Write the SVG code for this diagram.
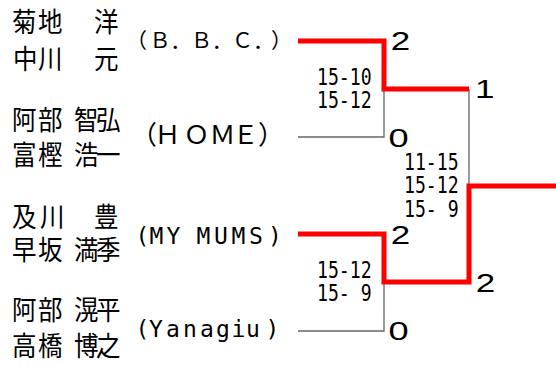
<svg xmlns="http://www.w3.org/2000/svg" width="556" height="365" viewBox="0 0 556 365">
<style>
.nm{font-family:"Noto Sans CJK JP","Noto Sans CJK SC",sans-serif;font-size:24.5px;fill:#000}
.fw{font-family:"Noto Sans CJK JP",sans-serif;fill:#000}
.mono{font-family:"DejaVu Sans Mono","Liberation Mono",monospace;font-size:23px;fill:#000}
.sc{font-family:"DejaVu Sans Mono","Liberation Mono",monospace;font-size:23px;fill:#000}
.pt{font-family:"Liberation Sans",Arial,sans-serif;font-size:25px;fill:#000}
.win{fill:none;stroke:#ff0000;stroke-width:5;stroke-linejoin:miter;stroke-linecap:butt}
.los{fill:none;stroke:#666;stroke-width:1.3}
</style>
<rect width="556" height="365" fill="#fff"/>
<g id="connectors">
<polyline class="los" points="384,89 384,137 298,137"/>
<polyline class="los" points="469,89 469,186"/>
<polyline class="los" points="384,282 384,331 298,331"/>
<polyline class="win" points="298,41 384,41 384,89 469,89"/>
<polyline class="win" points="298,234 384,234 384,282 469,282 469,186 556,186"/>
</g>
<g id="team-bbc">
<text class="nm" transform="translate(0,31.5) scale(1,1.1)" x="12 38 66 94" y="0">菊地　洋</text>
<text class="nm" transform="translate(0,69) scale(1,1.1)" x="13 38 66 94" y="0">中川　元</text>
<text class="fw" font-size="21" x="126 149.5 170.2 191 211.7 232 253 271" y="48">（Ｂ．Ｂ．Ｃ．）</text>
</g>
<g id="team-home">
<text class="nm" transform="translate(0,129.8) scale(1,1.1)" x="12 38 62 74 96" y="0">阿部　智弘</text>
<text class="nm" transform="translate(0,164.7) scale(1,1.1)" x="12 38 62 74 96" y="0">富樫　浩一</text>
<text class="fw" font-size="26" x="131 154.5 183.5 209.5 232.5 258" y="144">（ＨＯＭＥ）</text>
</g>
<g id="team-mymums">
<text class="nm" transform="translate(0,226.5) scale(1,1.1)" x="12 40 66 94" y="0">及川　豊</text>
<text class="nm" transform="translate(0,259.7) scale(1,1.1)" x="12 38 62 74 96" y="0">早坂　満季</text>
<text class="mono" x="135.6 149.6 166.6 183 196.6 214.1 231.6 249.1 268.1" y="244">(MY MUMS)</text>
</g>
<g id="team-yanagiu">
<text class="nm" transform="translate(0,319.7) scale(1,1.1)" x="12 38 62 74 96" y="0">阿部　滉平</text>
<text class="nm" transform="translate(0,355.7) scale(1,1.1)" x="12 38 62 74 96" y="0">高橋　博之</text>
<text class="mono" x="135.6 149.1 166.1 183.1 200.1 216.1 231.6 246.1 265.6" y="337">(Yanagiu)</text>
</g>
<g id="match-1">
<text class="pt" transform="translate(390.7,50) scale(1.4,1)">2</text>
<text class="pt" transform="translate(388.6,146.7) scale(1.45,1)">0</text>
<text class="sc" transform="translate(317,85) scale(0.79,1)">15-10</text>
<text class="sc" transform="translate(317,108.3) scale(0.79,1)">15-12</text>
</g>
<g id="match-2">
<text class="pt" transform="translate(390.7,244) scale(1.4,1)">2</text>
<text class="pt" transform="translate(388.6,340) scale(1.45,1)">0</text>
<text class="sc" transform="translate(317,278.3) scale(0.79,1)">15-12</text>
<text class="sc" transform="translate(317,300.5) scale(0.79,1)">15- 9</text>
</g>
<g id="final">
<text class="pt" transform="translate(475,98.3) scale(1.4,1)">1</text>
<text class="pt" transform="translate(475.7,292.3) scale(1.4,1)">2</text>
<text class="sc" transform="translate(404,170) scale(0.79,1)">11-15</text>
<text class="sc" transform="translate(404,193.3) scale(0.79,1)">15-12</text>
<text class="sc" transform="translate(404,216.7) scale(0.79,1)">15- 9</text>
</g>
</svg>
